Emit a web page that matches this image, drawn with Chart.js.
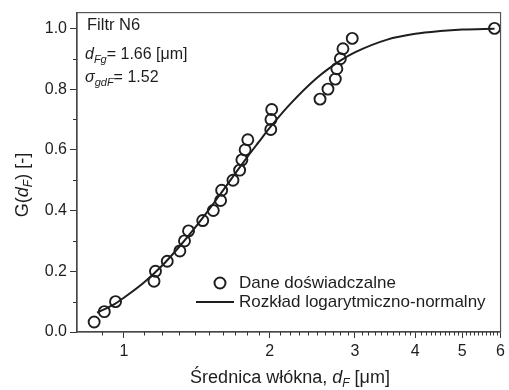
<!DOCTYPE html>
<html><head><meta charset="utf-8">
<script src="https://cdn.jsdelivr.net/npm/chart.js@4.4.0/dist/chart.umd.min.js"></script>
<style>html,body{margin:0;padding:0;background:#fff}#wrap{width:509px;height:390px}</style>
</head><body><div id="wrap"><canvas id="c" width="509" height="390"></canvas></div>
<script>
// Measured points (fiber diameter [um], cumulative fraction)
const diameters = [0.868,0.911,0.961,1.154,1.162,1.229,1.305,1.334,1.360,1.455,1.530,1.584,1.592,1.680,1.734,1.753,1.780,1.803,2.011,2.013,2.020,2.542,2.640,2.734,2.754,2.800,2.835,2.963,5.83];
const cumulative = [0.033,0.067,0.100,0.167,0.200,0.233,0.267,0.300,0.333,0.367,0.400,0.433,0.467,0.500,0.533,0.567,0.600,0.633,0.667,0.700,0.733,0.767,0.800,0.833,0.867,0.900,0.933,0.967,1.000];
// Log-normal fit curve
const fitX = [0.88,0.95,1.0,1.1,1.2,1.3,1.4,1.5,1.6,1.7,1.8,1.9,2.0,2.2,2.5,2.8,3.0,3.5,4.0,4.5,5.0,5.83];
const fitY = [0.064,0.089,0.113,0.163,0.219,0.280,0.342,0.404,0.465,0.523,0.577,0.626,0.672,0.749,0.836,0.894,0.921,0.963,0.982,0.991,0.996,0.999];
const xTicks = [1,2,3,4,5,6];
const yTicks = [0,0.2,0.4,0.6,0.8,1.0];
const yMinorTicks = [0.1,0.3,0.5,0.7,0.9];

const FONT = '"Liberation Sans", Arial, sans-serif';
const INK = '#1e1e1e';

function rich(ctx, x, y, parts, measureOnly) {
  let cx = x;
  for (const p of parts) {
    ctx.font = (p[2] ? 'italic ' : '') + p[1] + 'px ' + FONT;
    if (!measureOnly) ctx.fillText(p[0], cx, y + (p[3] || 0));
    cx += ctx.measureText(p[0]).width;
  }
  return cx - x;
}

const decor = {
  id: 'decor',
  afterDraw(chart) {
    const ctx = chart.ctx, a = chart.chartArea;
    const xs = chart.scales.x, ys = chart.scales.y;
    ctx.save();
    // frame
    ctx.strokeStyle = '#555';
    ctx.lineWidth = 1.2;
    ctx.strokeRect(a.left, a.top, a.right - a.left, a.bottom - a.top);
    // minor ticks
    ctx.strokeStyle = '#333';
    ctx.lineWidth = 1;
    ctx.beginPath();
    for (let i = 9; i <= 59; i++) {
      const v = i / 10;
      if (Number.isInteger(v) || v < 0.8) continue;
      const px = Math.round(xs.getPixelForValue(v)) + 0.5;
      ctx.moveTo(px, a.bottom); ctx.lineTo(px, a.bottom + 3.5);
    }
    for (const v of yMinorTicks) {
      const py = Math.round(ys.getPixelForValue(v)) + 0.5;
      ctx.moveTo(a.left, py); ctx.lineTo(a.left - 4, py);
    }
    ctx.stroke();

    ctx.fillStyle = INK;
    ctx.textBaseline = 'alphabetic';
    ctx.textAlign = 'left';
    // annotations
    rich(ctx, 87, 30, [['Filtr N6', 16.5]]);
    rich(ctx, 85, 59, [['d', 16, true], ['Fg', 11, true, 4], ['= 1.66 [\u03bcm]', 16]]);
    rich(ctx, 85, 82, [['\u03c3', 16, true], ['gdF', 11, true, 4], ['= 1.52', 16]]);

    // legend
    ctx.strokeStyle = INK;
    ctx.lineWidth = 2;
    ctx.beginPath(); ctx.arc(220, 283, 5.5, 0, Math.PI * 2); ctx.stroke();
    ctx.beginPath(); ctx.moveTo(196, 302); ctx.lineTo(234, 302); ctx.stroke();
    ctx.textBaseline = 'middle';
    rich(ctx, 239, 283, [['Dane do\u015bwiadczalne', 17]]);
    rich(ctx, 239, 302, [['Rozk\u0142ad logarytmiczno-normalny', 17]]);

    // x title
    ctx.textBaseline = 'alphabetic';
    const xt = [['\u015arednica w\u0142\u00f3kna, ', 18], ['d', 18, true], ['F', 12, true, 4], [' [\u03bcm]', 18]];
    const w = rich(ctx, 0, 0, xt, true);
    rich(ctx, 290 - w / 2, 383, xt);

    // y title
    const yt = [['G(', 18], ['d', 18, true], ['F', 12, true, 4], [') [-]', 18]];
    const wy = rich(ctx, 0, 0, yt, true);
    ctx.translate(28, 185);
    ctx.rotate(-Math.PI / 2);
    rich(ctx, -wy / 2, 0, yt);
    ctx.restore();
  }
};

new Chart(document.getElementById('c'), {
  type: 'scatter',
  data: {
    datasets: [
      {
        label: 'Dane do\u015bwiadczalne',
        data: diameters.map((x, i) => ({ x, y: cumulative[i] })),
        pointStyle: 'circle', pointRadius: 5.5, borderWidth: 1.9,
        borderColor: INK, backgroundColor: 'rgba(0,0,0,0)', showLine: false
      },
      {
        label: 'Rozk\u0142ad logarytmiczno-normalny',
        data: fitX.map((x, i) => ({ x, y: fitY[i] })),
        showLine: true, pointRadius: 0, borderWidth: 2, borderColor: INK,
        backgroundColor: INK, cubicInterpolationMode: 'monotone', fill: false
      }
    ]
  },
  options: {
    responsive: false, animation: false, devicePixelRatio: 1,
    layout: { padding: { top: 9, right: 6, left: 0, bottom: 0 } },
    plugins: { legend: { display: false }, tooltip: { enabled: false } },
    scales: {
      x: {
        type: 'logarithmic', min: 0.8, max: 6,
        afterBuildTicks: s => { s.ticks = xTicks.map(v => ({ value: v })); },
        afterFit: s => { s.height = 58; },
        ticks: { callback: v => String(v), font: { family: FONT, size: 16 }, color: INK, padding: 4, maxRotation: 0, autoSkip: false },
        grid: { drawOnChartArea: false, drawTicks: true, tickLength: 6, color: '#333', lineWidth: 1 },
        border: { color: '#333', width: 1.3 }
      },
      y: {
        type: 'linear', min: 0, max: 1.052,
        afterBuildTicks: s => { s.ticks = yTicks.map(v => ({ value: v })); },
        afterFit: s => { s.width = 77; },
        ticks: { callback: v => v.toFixed(1), font: { family: FONT, size: 16 }, color: INK, padding: 3 },
        grid: { drawOnChartArea: false, drawTicks: true, tickLength: 7, color: '#333', lineWidth: 1 },
        border: { color: '#333', width: 1.3 }
      }
    }
  },
  plugins: [decor]
});
</script>
</body></html>
